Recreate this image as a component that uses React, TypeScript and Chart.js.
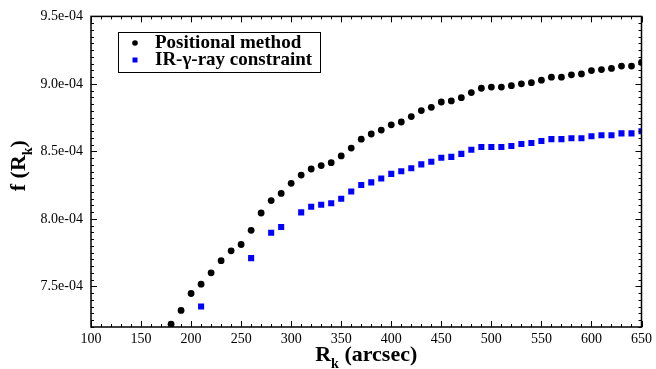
import React, { useEffect, useRef } from "react";
import { Chart, registerables } from "chart.js";

Chart.register(...registerables);

// Positional method: R_k (arcsec) and f(R_k)
const positionalRadii = [
  180, 190, 200, 210, 220, 230, 240, 250, 260, 270, 280, 290, 300, 310, 320, 330, 340, 350,
  360, 370, 380, 390, 400, 410, 420, 430, 440, 450, 460, 470, 480, 490, 500, 510, 520, 530,
  540, 550, 560, 570, 580, 590, 600, 610, 620, 630, 640, 650,
];
const positionalValues = [
  7.221e-4, 7.323e-4, 7.448e-4, 7.517e-4, 7.601e-4, 7.691e-4, 7.764e-4, 7.811e-4, 7.916e-4,
  8.044e-4, 8.136e-4, 8.189e-4, 8.264e-4, 8.325e-4, 8.370e-4, 8.395e-4, 8.417e-4, 8.467e-4,
  8.525e-4, 8.591e-4, 8.629e-4, 8.658e-4, 8.697e-4, 8.718e-4, 8.758e-4, 8.803e-4, 8.827e-4,
  8.866e-4, 8.874e-4, 8.898e-4, 8.936e-4, 8.968e-4, 8.977e-4, 8.977e-4, 8.987e-4, 9.001e-4,
  9.009e-4, 9.028e-4, 9.050e-4, 9.050e-4, 9.067e-4, 9.074e-4, 9.099e-4, 9.106e-4, 9.115e-4,
  9.132e-4, 9.132e-4, 9.159e-4,
];

// IR-gamma-ray constraint
const irRadii = [
  210, 260, 280, 290, 310, 320, 330, 340, 350, 360, 370, 380, 390, 400, 410, 420, 430, 440,
  450, 460, 470, 480, 490, 500, 510, 520, 530, 540, 550, 560, 570, 580, 590, 600, 610, 620,
  630, 640, 650,
];
const irValues = [
  7.352e-4, 7.710e-4, 7.898e-4, 7.940e-4, 8.049e-4, 8.090e-4, 8.105e-4, 8.116e-4, 8.150e-4,
  8.203e-4, 8.252e-4, 8.271e-4, 8.300e-4, 8.334e-4, 8.353e-4, 8.375e-4, 8.404e-4, 8.424e-4,
  8.453e-4, 8.460e-4, 8.482e-4, 8.513e-4, 8.533e-4, 8.533e-4, 8.533e-4, 8.540e-4, 8.555e-4,
  8.562e-4, 8.577e-4, 8.591e-4, 8.591e-4, 8.598e-4, 8.598e-4, 8.612e-4, 8.620e-4, 8.620e-4,
  8.634e-4, 8.634e-4, 8.649e-4,
];

const seriesLabels = ["Positional method", "IR-\u03b3-ray constraint"];
const xTicks = [100, 150, 200, 250, 300, 350, 400, 450, 500, 550, 600, 650];
const yTicks = [7.5e-4, 8.0e-4, 8.5e-4, 9.0e-4, 9.5e-4];
const xMinorStep = 10;
const yMinorStep = 0.05e-4;

const SERIF = '"Liberation Serif", "Times New Roman", serif';

type Part = { text: string; sub?: boolean };

function drawParts(ctx: CanvasRenderingContext2D, parts: Part[], size: number, cx: number, baseline: number) {
  const fontFor = (p: Part) => `bold ${p.sub ? Math.round(size * 0.62) : size}px ${SERIF}`;
  let total = 0;
  for (const p of parts) {
    ctx.font = fontFor(p);
    total += ctx.measureText(p.text).width;
  }
  let x = cx - total / 2;
  ctx.textAlign = "left";
  ctx.textBaseline = "alphabetic";
  for (const p of parts) {
    ctx.font = fontFor(p);
    ctx.fillText(p.text, x, baseline + (p.sub ? size * 0.3 : 0));
    x += ctx.measureText(p.text).width;
  }
}

const framePlugin = {
  id: "frame",
  afterDraw(chart: any) {
    const { ctx, chartArea } = chart;
    const { left, right, top, bottom } = chartArea;
    const xs = chart.scales.x;
    const ys = chart.scales.y;
    ctx.save();
    ctx.strokeStyle = "#000";
    ctx.lineWidth = 1;
    for (let v = xs.min; v <= xs.max + 1e-9; v += xMinorStep) {
      const major = Math.abs(v % 50) < 1e-6;
      const len = major ? 6 : 3;
      const px = Math.round(xs.getPixelForValue(v)) + 0.5;
      ctx.beginPath();
      ctx.moveTo(px, bottom);
      ctx.lineTo(px, bottom - len);
      ctx.moveTo(px, top);
      ctx.lineTo(px, top + len);
      ctx.stroke();
    }
    const n = Math.round((ys.max - ys.min) / yMinorStep);
    for (let i = 0; i <= n; i++) {
      const v = ys.min + i * yMinorStep;
      const major = yTicks.some((t) => Math.abs(t - v) < 1e-9);
      const len = major ? 6 : 3;
      const py = Math.round(ys.getPixelForValue(v)) + 0.5;
      ctx.beginPath();
      ctx.moveTo(left, py);
      ctx.lineTo(left + len, py);
      ctx.moveTo(right, py);
      ctx.lineTo(right - len, py);
      ctx.stroke();
    }
    ctx.lineWidth = 1.5;
    ctx.strokeRect(left, top, right - left, bottom - top);

    // axis titles
    ctx.fillStyle = "#000";
    drawParts(ctx, [{ text: "R" }, { text: "k", sub: true }, { text: " (arcsec)" }], 22, (left + right) / 2, 361);
    ctx.save();
    ctx.translate(25, (top + bottom) / 2 - 6);
    ctx.rotate(-Math.PI / 2);
    drawParts(ctx, [{ text: "f (R" }, { text: "k", sub: true }, { text: ")" }], 22, 0, 0);
    ctx.restore();

    // legend
    const lx = 118, ly = 32, lw = 202, lh = 40;
    ctx.fillStyle = "#fff";
    ctx.fillRect(lx, ly, lw, lh);
    ctx.lineWidth = 1;
    ctx.strokeStyle = "#000";
    ctx.strokeRect(lx + 0.5, ly + 0.5, lw, lh);
    const ds = chart.data.datasets;
    const rows = [43, 60];
    ds.forEach((d: any, i: number) => {
      const y = rows[i];
      ctx.fillStyle = d.backgroundColor;
      ctx.beginPath();
      if (d.pointStyle === "rect") {
        ctx.rect(135 - 2.5, y - 2.5, 5, 5);
      } else {
        ctx.arc(135, y, 2.8, 0, Math.PI * 2);
      }
      ctx.fill();
      ctx.fillStyle = "#000";
      ctx.font = `bold 19px ${SERIF}`;
      ctx.textAlign = "left";
      ctx.textBaseline = "middle";
      ctx.fillText(d.label, 155, y + 0.5);
    });
    ctx.restore();
  },
};

export default function App() {
  const ref = useRef<HTMLCanvasElement | null>(null);

  useEffect(() => {
    if (!ref.current) return;
    const chart = new Chart(ref.current, {
      type: "scatter",
      data: {
        datasets: [
          {
            label: seriesLabels[0],
            data: positionalRadii.map((x, i) => ({ x, y: positionalValues[i] })),
            pointStyle: "circle",
            pointRadius: 3.4,
            borderWidth: 0,
            backgroundColor: "#000000",
            borderColor: "#000000",
          },
          {
            label: seriesLabels[1],
            data: irRadii.map((x, i) => ({ x, y: irValues[i] })),
            pointStyle: "rect",
            pointRadius: 4.3,
            borderWidth: 0,
            backgroundColor: "#0000ff",
            borderColor: "#0000ff",
          },
        ],
      },
      options: {
        animation: false,
        responsive: false,
        devicePixelRatio: 1,
        layout: { padding: { top: 10, right: 10, left: 0, bottom: 0 } },
        plugins: { legend: { display: false }, tooltip: { enabled: false } },
        scales: {
          x: {
            type: "linear",
            min: 100,
            max: 650,
            grid: { display: false, drawTicks: false },
            border: { display: false },
            afterFit: (s: any) => {
              s.height = 42;
            },
            afterBuildTicks: (s: any) => {
              s.ticks = xTicks.map((value) => ({ value }));
            },
            ticks: {
              padding: 4,
              color: "#000",
              font: { family: SERIF, size: 14 },
              maxRotation: 0,
              callback: (v: any) => String(v),
            },
          },
          y: {
            type: "linear",
            min: 7.2e-4,
            max: 9.5e-4,
            grid: { display: false, drawTicks: false },
            border: { display: false },
            afterFit: (s: any) => {
              s.width = 91;
            },
            afterBuildTicks: (s: any) => {
              s.ticks = yTicks.map((value) => ({ value }));
            },
            ticks: {
              padding: 8,
              color: "#000",
              font: { family: SERIF, size: 14 },
              callback: (v: any) => Number(v).toExponential(1).replace(/e-(\d)$/, "e-0$1"),
            },
          },
        },
      },
      plugins: [framePlugin],
    });
    return () => chart.destroy();
  }, []);

  return (
    <div style={{ position: "fixed", left: 0, top: 0, width: 656, height: 369, background: "#fff" }}>
      <canvas ref={ref} width={656} height={369} style={{ width: 656, height: 369, display: "block" }} />
    </div>
  );
}
